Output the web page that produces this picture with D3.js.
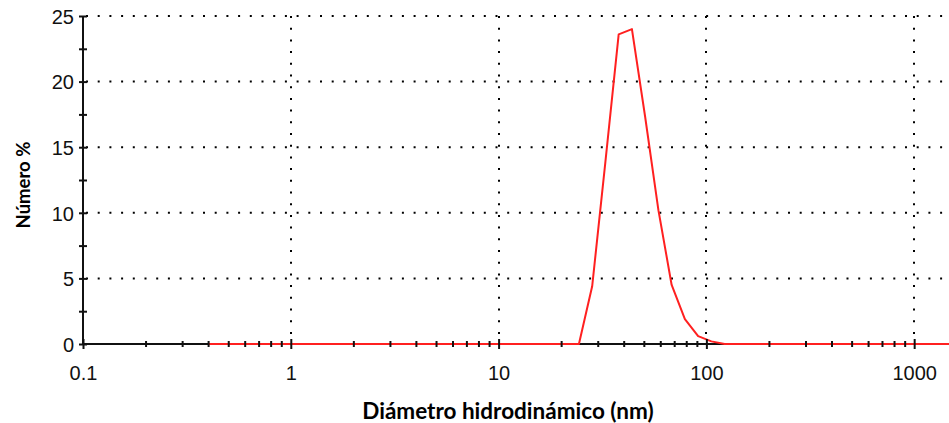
<!DOCTYPE html>
<html>
<head>
<meta charset="utf-8">
<script src="https://cdn.jsdelivr.net/npm/d3@7"></script>
<style>
  html, body { margin: 0; padding: 0; background: #fff; }
  svg { display: block; }
</style>
</head>
<body>
<div id="chart"></div>
<script>
// Size bins (nm) and number distribution (%)
const sizes = [0.4000, 0.4632, 0.5365, 0.6213, 0.7195, 0.8332, 0.9649, 1.117, 1.294, 1.499,
    1.736, 2.010, 2.328, 2.696, 3.122, 3.615, 4.187, 4.849, 5.615, 6.503,
    7.531, 8.721, 10.10, 11.70, 13.54, 15.69, 18.17, 21.04, 24.36, 28.21,
    32.67, 37.84, 43.82, 50.75, 58.77, 68.06, 78.82, 91.28, 105.7, 122.4,
    141.8, 164.2, 190.1, 220.2, 255.0, 295.3, 342.0, 396.1, 458.7, 531.2,
    615.1, 712.4, 825.0, 955.4, 1106, 1281, 1484, 1718];
const numberPct = [0, 0, 0, 0, 0, 0, 0, 0, 0, 0,
    0, 0, 0, 0, 0, 0, 0, 0, 0, 0,
    0, 0, 0, 0, 0, 0, 0, 0, 0, 4.4,
    13.9, 23.6, 24.0, 17.3, 10.2, 4.5, 1.9, 0.6, 0.2, 0,
    0, 0, 0, 0, 0, 0, 0, 0, 0, 0,
    0, 0, 0, 0, 0, 0, 0, 0];

const xMajorTicks = [0.1, 1, 10, 100, 1000];
const xTickLabels = ["0.1", "1", "10", "100", "1000"];
const xGridValues = [1, 10, 100, 1000];
const yTicks = [0, 2.5, 5, 7.5, 10, 12.5, 15, 17.5, 20, 22.5, 25];
const yLabelTicks = [0, 5, 10, 15, 20, 25];
const yGridValues = [5, 10, 15, 20, 25];

const xTitle = "Diámetro hidrodinámico (nm)";
const yTitle = "Número %";

const W = 949, H = 423;
const margin = {top: 16, right: 0, bottom: 79, left: 83};

const svg = d3.select("#chart")
    .append("svg")
    .attr("width", W)
    .attr("height", H);

const x = d3.scaleLog()
    .domain([0.1, 1471])
    .range([margin.left, W - margin.right]);

const y = d3.scaleLinear()
    .domain([0, 25])
    .range([H - margin.bottom, margin.top]);

const data = sizes.map((s, i) => ({size: s, pct: numberPct[i]}));

// Dotted grid
const grid = svg.append("g").attr("stroke", "#000").attr("stroke-width", 2)
    .attr("stroke-dasharray", "2,9.7");
grid.selectAll(".hgrid")
    .data(yGridValues)
    .enter().append("line")
    .attr("x1", x(0.1) + 3).attr("x2", W)
    .attr("y1", d => y(d)).attr("y2", d => y(d));
grid.selectAll(".vgrid")
    .data(xGridValues)
    .enter().append("line")
    .attr("x1", d => Math.round(x(d))).attr("x2", d => Math.round(x(d)))
    .attr("y1", y(25)).attr("y2", y(0) - 3);

// Axis baseline lines (below the curve)
svg.append("line")
    .attr("x1", x(0.1)).attr("x2", W)
    .attr("y1", y(0)).attr("y2", y(0))
    .attr("stroke", "#111").attr("stroke-width", 2);
svg.append("line")
    .attr("x1", x(0.1)).attr("x2", x(0.1))
    .attr("y1", y(25)).attr("y2", y(0))
    .attr("stroke", "#111").attr("stroke-width", 2);

// Distribution curve
const line = d3.line()
    .x(d => x(d.size))
    .y(d => y(d.pct));

svg.append("path")
    .datum(data)
    .attr("fill", "none")
    .attr("stroke", "#ff2020")
    .attr("stroke-width", 2)
    .attr("stroke-linejoin", "round")
    .attr("d", line);

// X axis ticks (drawn over the curve)
const xMinor = x.ticks().filter(v => !xMajorTicks.includes(v) && v <= 1471);

const xAxisMinor = svg.append("g")
    .attr("transform", `translate(0,${y(0)})`)
    .call(d3.axisBottom(x).tickValues(xMinor).tickSize(3).tickFormat(""));
xAxisMinor.select(".domain").remove();
xAxisMinor.selectAll(".tick line").attr("y1", -3).attr("stroke", "#111").attr("stroke-width", 2);

const xAxis = svg.append("g")
    .attr("transform", `translate(0,${y(0)})`)
    .call(d3.axisBottom(x).tickValues(xMajorTicks).tickSize(5)
        .tickFormat((d, i) => xTickLabels[i]));
xAxis.select(".domain").remove();
xAxis.selectAll(".tick line").attr("y1", -5).attr("stroke", "#111").attr("stroke-width", 2);
xAxis.selectAll(".tick text")
    .attr("y", 36)
    .attr("dy", 0)
    .attr("fill", "#111")
    .style("font-family", "Liberation Sans, Arial, sans-serif")
    .style("font-size", "20px");

// Y axis
const yAxis = svg.append("g")
    .attr("transform", `translate(${x(0.1)},0)`)
    .call(d3.axisLeft(y).tickValues(yTicks).tickSize(4)
        .tickFormat(d => yLabelTicks.includes(d) ? d : ""));
yAxis.select(".domain").remove();
yAxis.selectAll(".tick line").attr("x1", 4).attr("stroke", "#111").attr("stroke-width", 2);
yAxis.selectAll(".tick text")
    .attr("x", -9)
    .attr("dy", "0.36em")
    .attr("fill", "#111")
    .style("font-family", "Liberation Sans, Arial, sans-serif")
    .style("font-size", "20px");

// Axis titles
svg.append("text")
    .attr("x", 508)
    .attr("y", 419)
    .attr("text-anchor", "middle")
    .style("font-family", "Lato, 'Open Sans', sans-serif")
    .style("font-weight", "bold")
    .style("font-size", "22.5px")
    .attr("fill", "#000")
    .text(xTitle);

svg.append("text")
    .attr("transform", `translate(30,185) rotate(-90)`)
    .attr("text-anchor", "middle")
    .style("font-family", "Lato, 'Open Sans', sans-serif")
    .style("font-weight", "bold")
    .style("font-size", "18.5px")
    .attr("fill", "#000")
    .text(yTitle);
</script>
</body>
</html>
